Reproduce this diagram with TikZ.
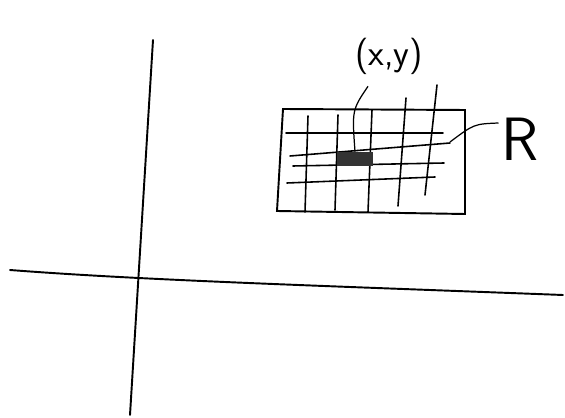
\documentclass[tikz,border=0pt]{standalone}
\usepackage{amsmath}
\usetikzlibrary{positioning}

\begin{document}
\begin{tikzpicture}[
  x=0.02cm, y=-0.02cm,
  axis/.style={line width=1.1pt, line cap=round},
  gridline/.style={line width=0.9pt, line cap=round},
  leader/.style={line width=0.7pt},
  cell/.style={fill=black!80, inner sep=0pt, minimum width=0.72cm, minimum height=0.28cm},
  mylabel/.style={font=\sffamily, inner sep=1pt}
]
\useasboundingbox (0,0) rectangle (565,418);

% axes
\draw[axis] (153,40) -- (130,415);
\draw[axis] (10,270) .. controls (140,280) and (300,285) .. (563,295);

% region R
\draw[axis] (283,109) -- (465,110) -- (465,214) -- (277,211) -- cycle;

% columns
\draw[gridline] (308,116) -- (305,212);
\draw[gridline] (338,115) -- (335,210);
\draw[gridline] (372,110) -- (368,212);
\draw[gridline] (406,98) -- (398,206);
\draw[gridline] (437,85) -- (425,195);

% rows
\draw[gridline] (286,133) -- (443,133);
\draw[gridline] (290,156) -- (450,143);
\draw[gridline] (293,166) -- (444,163);
\draw[gridline] (287,183) -- (435,177);

% the point and labels
\node[cell] (p) at (355,159) {};
\node[mylabel, font=\sffamily\huge] (xy) at (389,56) {(x,y)};
\node[mylabel, font=\sffamily\Huge, scale=1.4] (r) at (520,139) {R};
\coordinate (rend) at (450,142);

\draw[leader] (xy.south) ++(-21,10) coordinate (xys);
\draw[leader] (xys) .. controls (352,110) .. (p.north);
\draw[leader] ([shift={(0,-16)}]r.west) .. controls (474,124) .. (rend);

\end{tikzpicture}
\end{document}
